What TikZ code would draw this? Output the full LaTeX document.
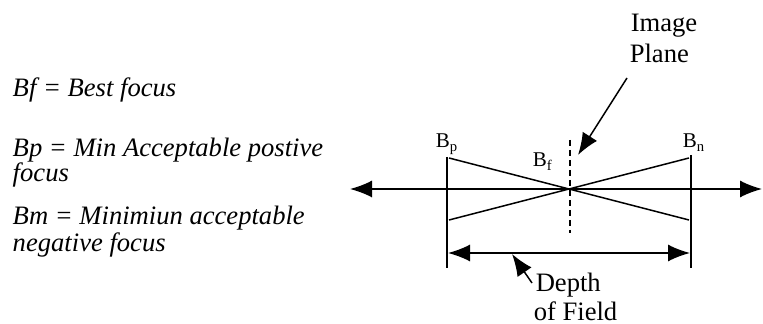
\documentclass[tikz,border=0pt]{standalone}
\usepackage{fontspec}
\setmainfont{Liberation Serif}
\usetikzlibrary{arrows.meta}

\begin{document}
\begin{tikzpicture}[x=0.5pt, y=-0.5pt, line width=0.75pt,
    >={Latex[length=11pt, width=8.5pt]},
    legend/.style={anchor=base west, inner sep=0pt, font=\fontsize{13.3}{16}\selectfont\itshape},
    txt/.style={anchor=base west, inner sep=0pt, font=\fontsize{13.3}{16}\selectfont},
    blabel/.style={anchor=base west, inner sep=0pt, font=\fontsize{10.5}{12}\selectfont}]
        \useasboundingbox (0,0) rectangle (763,324);
        % 凡例
        \node[legend] (bf) at (12,97) {Bf = Best focus};
        \node[legend] (bp1) at (12,157) {Bp = Min Acceptable postive};
        \node[legend] (bp2) at (12,182) {focus};
        \node[legend] (bm1) at (12,225) {Bm = Minimiun acceptable};
        \node[legend] (bm2) at (12,252) {negative focus};
        % 光軸
        \coordinate (axL) at (350,189);
        \coordinate (axR) at (762,189);
        \draw[<->] (axL) -- (axR);
        % 端の線
        \coordinate (PT) at (447,157);
        \coordinate (PB) at (447,268);
        \coordinate (NT) at (691,155);
        \coordinate (NB) at (691,268);
        \draw (PT) -- (PB);
        \draw (NT) -- (NB);
        % 光線
        \draw (449,158) -- (689,220);
        \draw (449,220) -- (689,158);
        % 像面
        \coordinate (IT) at (570,140);
        \coordinate (IB) at (570,233);
        \draw[dash pattern=on 3pt off 2pt] (IT) -- (IB);
        \node[txt] (img) at (630,32) {Image};
        \node[txt] (pln) at (629,63) {Plane};
        \coordinate (IA) at (627,78);
        \coordinate (IH) at (578,155);
        \draw[->] (IA) -- (IH);
        % 焦点ラベル
        \node[blabel] (lp) at (435,148) {B\textsubscript{p}};
        \node[blabel] (lf) at (532,167) {B\textsubscript{f}};
        \node[blabel] (ln) at (682,148) {B\textsubscript{n}};
        % 被写界深度
        \coordinate (DL) at (448,253);
        \coordinate (DR) at (690,253);
        \draw[<->] (DL) -- (DR);
        \node[txt] (dep) at (535,292) {Depth};
        \node[txt] (fld) at (533,321) {of Field};
        \coordinate (DA) at (532,283);
        \coordinate (DH) at (512,254);
        \draw[->] (DA) -- (DH);
\end{tikzpicture}
\end{document}
